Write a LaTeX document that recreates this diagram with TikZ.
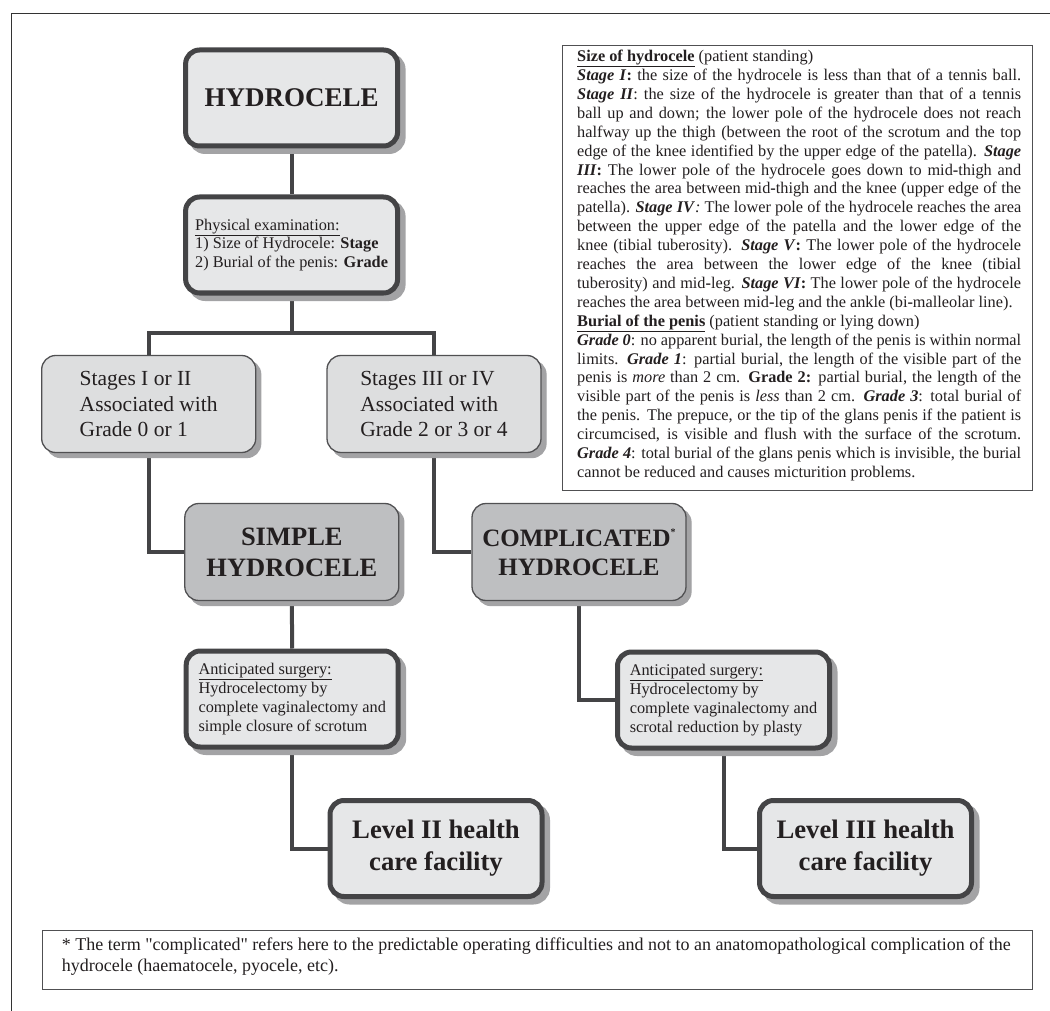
\documentclass[tikz,border=0pt]{standalone}
\usepackage{fontspec}
\setmainfont{Liberation Serif}
\newfontfamily\rawserif{Liberation Serif}
\usetikzlibrary{shadows,backgrounds}
\definecolor{bord}{HTML}{444446}
\definecolor{thinbord}{HTML}{505052}
\definecolor{lightfill}{HTML}{E6E7E8}
\definecolor{stagefill}{HTML}{DDDEDF}
\definecolor{darkfill}{HTML}{BEBFC1}
\definecolor{shd}{HTML}{A3A3A5}
\definecolor{txt}{HTML}{231F20}
\definecolor{framec}{HTML}{333333}
\newcommand\jline[1]{\makebox[444pt][s]{#1}}
\newcommand\bh{\textbf{-}}
\newcommand\sq{{\rawserif"}}
\begin{document}
\begin{tikzpicture}[x=1pt,y=-1pt,
  thickbox/.style={draw=bord, line width=5pt, fill=lightfill, rounded corners=14pt,
    minimum width=212pt, minimum height=96pt, inner sep=0pt, text=txt,
    drop shadow={shadow xshift=5.5pt, shadow yshift=-5.5pt, fill=shd, draw=shd, opacity=1, line width=5pt}},
  thinbox/.style={draw=thinbord, line width=1.3pt, rounded corners=14pt,
    minimum width=214pt, minimum height=97pt, inner sep=0pt, text=txt,
    drop shadow={shadow xshift=5pt, shadow yshift=-5pt, fill=shd, draw=shd, opacity=1, line width=1.3pt}},
  conn/.style={draw=bord, line width=4pt},
  plainbox/.style={draw=thinbord, line width=1.2pt, fill=white},
  small/.style={font=\fontsize{16.3}{18.8}\selectfont}
]
\useasboundingbox (0,0) rectangle (1050,1011);
% outer frame (cropped)
\draw[framec, line width=1.5pt] (11.5,1011) -- (11.5,13.3) -- (1050,13.3);

% main boxes
\node[thickbox, font=\fontsize{27}{32}\selectfont\bfseries] (hyd) at (291.6,98) {HYDROCELE};
\node[thickbox, small, align=left] (phys) at (291.6,245)
  {\underline{Physical examination:}\\1) Size of Hydrocele: \textbf{Stage}\\2) Burial of the penis: \textbf{Grade}};
\node[thinbox, fill=stagefill, align=left, font=\fontsize{21.5}{25.5}\selectfont] (st1) at (148.7,404)
  {Stages I or II\\Associated with\\Grade 0 or 1};
\node[thinbox, fill=stagefill, align=left, font=\fontsize{21.5}{25.5}\selectfont] (st3) at (434,404)
  {Stages III or IV\\Associated with\\Grade 2 or 3 or 4};
\node[thinbox, fill=darkfill, align=center, font=\fontsize{26.5}{31}\selectfont\bfseries] (simple) at (291.8,552)
  {SIMPLE\\HYDROCELE};
\node[thinbox, fill=darkfill, align=center, font=\fontsize{25}{29}\selectfont\bfseries] (comp) at (579,552)
  {COMPLICATED\raisebox{11pt}{\fontsize{10}{10}\selectfont *}\\HYDROCELE};
\node[thickbox, align=left, font=\fontsize{16.3}{19}\selectfont] (surg1) at (292.2,699)
  {\underline{Anticipated surgery:}\\Hydrocelectomy by\\complete vaginalectomy and\\simple closure of scrotum};
\node[thickbox, align=left, font=\fontsize{16.3}{19}\selectfont] (surg2) at (723.5,700)
  {\underline{Anticipated surgery:}\\Hydrocelectomy by\\complete vaginalectomy and\\scrotal reduction by plasty};
\node[thickbox, align=center, font=\fontsize{26.7}{32}\selectfont\bfseries] (lev2) at (436,848.5)
  {Level II health\\care facility};
\node[thickbox, align=center, font=\fontsize{26.7}{32}\selectfont\bfseries] (lev3) at (865.5,848.5)
  {Level III health\\care facility};

% connectors
\coordinate (bar) at (291.6,333);
\begin{pgfonlayer}{background}
\draw[conn] (hyd.south) -- (phys.north);
\draw[conn] (phys.south) -- (bar);
\draw[conn] (st1.north) |- (bar) -| (st3.north);
\draw[conn] (st1.south) |- (simple.west);
\draw[conn] (st3.south) |- (comp.west);
\draw[conn] (simple.south) -- (surg1.north);
\draw[conn] (comp.south) |- (surg2.west);
\draw[conn] (surg1.south) |- (lev2.west);
\draw[conn] (surg2.south) |- (lev3.west);
\end{pgfonlayer}

% definitions box
\node[plainbox, minimum width=470pt, minimum height=445pt, anchor=north west, inner sep=0pt] (defbox) at (562,45) {};
\node[anchor=north west, inner sep=0pt, align=left, text=txt, font=\fontsize{16.3}{18.9}\selectfont] (deftext) at (577,50)
{\textbf{\underline{Size of hydrocele}} (patient standing)\\
\jline{\textbf{\textit{Stage I}:} the size of the hydrocele is less than that of a tennis ball.}\\
\jline{\textbf{\textit{Stage II}}: the size of the hydrocele is greater than that of a tennis}\\
\jline{ball up and down; the lower pole of the hydrocele does not reach}\\
\jline{halfway up the thigh (between the root of the scrotum and the top}\\
\jline{edge of the knee identified by the upper edge of the patella). \textbf{\textit{Stage}}}\\
\jline{\textbf{\textit{III}:} The lower pole of the hydrocele goes down to mid\bh thigh and}\\
\jline{reaches the area between mid\bh thigh and the knee (upper edge of the}\\
\jline{patella). \textbf{\textit{Stage IV}}\textit{:} The lower pole of the hydrocele reaches the area}\\
\jline{between the upper edge of the patella and the lower edge of the}\\
\jline{knee (tibial tuberosity). \textbf{\textit{Stage V}:} The lower pole of the hydrocele}\\
\jline{reaches the area between the lower edge of the knee (tibial}\\
\jline{tuberosity) and mid\bh leg. \textbf{\textit{Stage VI}:} The lower pole of the hydrocele}\\
reaches the area between mid\bh leg and the ankle (bi\bh malleolar line).\\
\textbf{\underline{Burial of the penis}} (patient standing or lying down)\\
\jline{\textbf{\textit{Grade 0}}: no apparent burial, the length of the penis is within normal}\\
\jline{limits. \textbf{\textit{Grade 1}}: partial burial, the length of the visible part of the}\\
\jline{penis is \textit{more} than 2 cm. \textbf{Grade 2:} partial burial, the length of the}\\
\jline{visible part of the penis is \textit{less} than 2 cm. \textbf{\textit{Grade 3}}: total burial of}\\
\jline{the penis. The prepuce, or the tip of the glans penis if the patient is}\\
\jline{circumcised, is visible and flush with the surface of the scrotum.}\\
\jline{\textbf{\textit{Grade 4}}: total burial of the glans penis which is invisible, the burial}\\
cannot be reduced and causes micturition problems.};

% footnote box
\node[plainbox, minimum width=990.5pt, minimum height=59pt, anchor=north west, inner sep=0pt] (footbox) at (41.5,930) {};
\node[anchor=north west, inner sep=0pt, align=left, text=txt, font=\fontsize{18}{21}\selectfont] (foottext) at (61.6,938)
{* The term \sq complicated\sq{} refers here to the predictable operating difficulties and not to an anatomopathological complication of the\\
hydrocele (haematocele, pyocele, etc).};
\end{tikzpicture}
\end{document}
